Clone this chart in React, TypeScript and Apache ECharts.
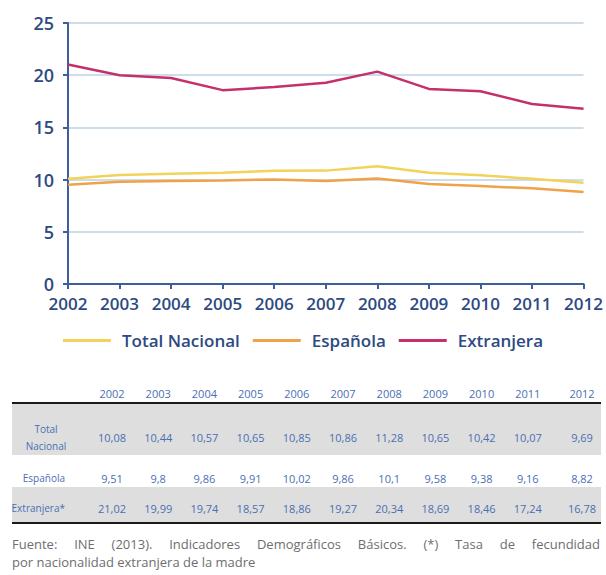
import React, { useEffect, useRef } from "react";
import * as echarts from "echarts";

const years = ["2002", "2003", "2004", "2005", "2006", "2007", "2008", "2009", "2010", "2011", "2012"];
const totalNacional = [10.08, 10.44, 10.57, 10.65, 10.85, 10.86, 11.28, 10.65, 10.42, 10.07, 9.69];
const espanola = [9.51, 9.8, 9.86, 9.91, 10.02, 9.86, 10.1, 9.58, 9.38, 9.16, 8.82];
const extranjera = [21.02, 19.99, 19.74, 18.57, 18.86, 19.27, 20.34, 18.69, 18.46, 17.24, 16.78];
const seriesNames = ["Total Nacional", "Española", "Extranjera"];
const tableRowLabels = ["Total\nNacional", "Española", "Extranjera*"];
const yMin = 0;
const yMax = 25;
const yInterval = 5;
const footnoteLine1 = "Fuente: INE (2013). Indicadores Demográficos Básicos. (*) Tasa de fecundidad";
const footnoteLine2 = "por nacionalidad extranjera de la madre";

const AXIS_TEXT = "#2d4a82";
const AXIS_LINE = "#3f5d9a";
const GRID_LINE = "#bcd2e2";
const TABLE_TEXT = "#4a6fb3";
const FOOT_TEXT = "#6e6e6e";
const COLORS = ["#f2d35a", "#f0a24a", "#c4306a"];

const fmt = (v: number) => String(v).replace(".", ",");

function colX(i: number) {
  return i < 10 ? 112 + 46.2 * i : 582;
}

function justifiedWords(text: string, left: number, right: number, y: number, font: string) {
  const words = text.split(" ");
  const canvas = document.createElement("canvas");
  const ctx = canvas.getContext("2d")!;
  ctx.font = font;
  const widths = words.map((w) => ctx.measureText(w).width);
  const total = widths.reduce((a, b) => a + b, 0);
  const gap = (right - left - total) / (words.length - 1);
  let x = left;
  return words.map((w, i) => {
    const el = {
      type: "text",
      x,
      y,
      z: 5,
      style: { text: w, font, fill: FOOT_TEXT, align: "left", verticalAlign: "middle" },
    };
    x += widths[i] + gap;
    return el;
  });
}

export default function App() {
  const ref = useRef<HTMLDivElement>(null);
  useEffect(() => {
    if (!ref.current) return;
    const chart = echarts.init(ref.current, undefined, { renderer: "svg" });
    const tableFont = '11px "Open Sans"';
    const labelFont = '10px "Open Sans"';
    const rowsData = [totalNacional, espanola, extranjera];
    const rowY = [437, 478, 508];
    const graphic: any[] = [];
    graphic.push({ type: "rect", z: 1, shape: { x: 12, y: 404, width: 589, height: 51 }, style: { fill: "#dedede" } });
    graphic.push({ type: "rect", z: 1, shape: { x: 12, y: 487, width: 589, height: 35 }, style: { fill: "#dedede" } });
    graphic.push({ type: "line", z: 2, shape: { x1: 12, y1: 403, x2: 601, y2: 403 }, style: { stroke: "#1a1a1a", lineWidth: 2 } });
    graphic.push({ type: "line", z: 2, shape: { x1: 12, y1: 523, x2: 601, y2: 523 }, style: { stroke: "#1a1a1a", lineWidth: 2 } });
    years.forEach((y, i) => {
      graphic.push({
        type: "text", z: 5, x: colX(i), y: 393,
        style: { text: y, font: tableFont, fill: TABLE_TEXT, align: "center", verticalAlign: "middle" },
      });
    });
    rowsData.forEach((row, r) => {
      const label = tableRowLabels[r];
      graphic.push({
        type: "text", z: 5,
        x: r === 0 ? 46 : 65,
        y: rowY[r],
        style: {
          text: label, font: labelFont, fill: TABLE_TEXT,
          align: r === 0 ? "center" : "right", verticalAlign: "middle", lineHeight: 17,
        },
      });
      row.forEach((v, i) => {
        graphic.push({
          type: "text", z: 5, x: colX(i), y: rowY[r],
          style: { text: fmt(v), font: tableFont, fill: TABLE_TEXT, align: "center", verticalAlign: "middle" },
        });
      });
    });
    const footFont = '13px "Open Sans"';
    graphic.push(...justifiedWords(footnoteLine1, 12, 600, 544, footFont));
    graphic.push({
      type: "text", z: 5, x: 12, y: 562,
      style: { text: footnoteLine2, font: footFont, fill: FOOT_TEXT, align: "left", verticalAlign: "middle" },
    });

    const seriesData = [totalNacional, espanola, extranjera];
    chart.setOption({
      animation: false,
      textStyle: { fontFamily: "Open Sans" },
      grid: { left: 68, right: 21, top: 23, bottom: 291, containLabel: false },
      legend: {
        top: 327,
        left: "center",
        icon: "rect",
        itemWidth: 48,
        itemHeight: 3,
        itemGap: 13,
        data: seriesNames,
        textStyle: { fontSize: 17, fontWeight: 600, color: AXIS_TEXT, padding: [0, 0, 0, 6] },
      },
      xAxis: {
        type: "category",
        data: years,
        boundaryGap: false,
        axisLine: { lineStyle: { color: AXIS_LINE, width: 2 } },
        axisTick: { show: true, length: 5, lineStyle: { color: AXIS_LINE, width: 2 } },
        axisLabel: { color: AXIS_TEXT, fontSize: 17, fontWeight: 600, margin: 11, interval: 0 },
        splitLine: { show: false },
      },
      yAxis: {
        type: "value",
        min: yMin,
        max: yMax,
        interval: yInterval,
        axisLine: { show: true, lineStyle: { color: AXIS_LINE, width: 2 } },
        axisTick: { show: true, length: 5, lineStyle: { color: AXIS_LINE, width: 2 } },
        axisLabel: { color: AXIS_TEXT, fontSize: 18, fontWeight: 600, margin: 14 },
        splitLine: { show: true, lineStyle: { color: GRID_LINE, width: 1.5 } },
      },
      series: seriesNames.map((name, i) => ({
        name,
        type: "line",
        data: seriesData[i],
        showSymbol: false,
        symbol: "none",
        lineStyle: { color: COLORS[i], width: 2.5 },
        itemStyle: { color: COLORS[i] },
        z: 3 + i,
      })),
      graphic,
    });
    return () => chart.dispose();
  }, []);
  return <div ref={ref} style={{ position: "absolute", left: 0, top: 0, width: 606, height: 575 }} />;
}
